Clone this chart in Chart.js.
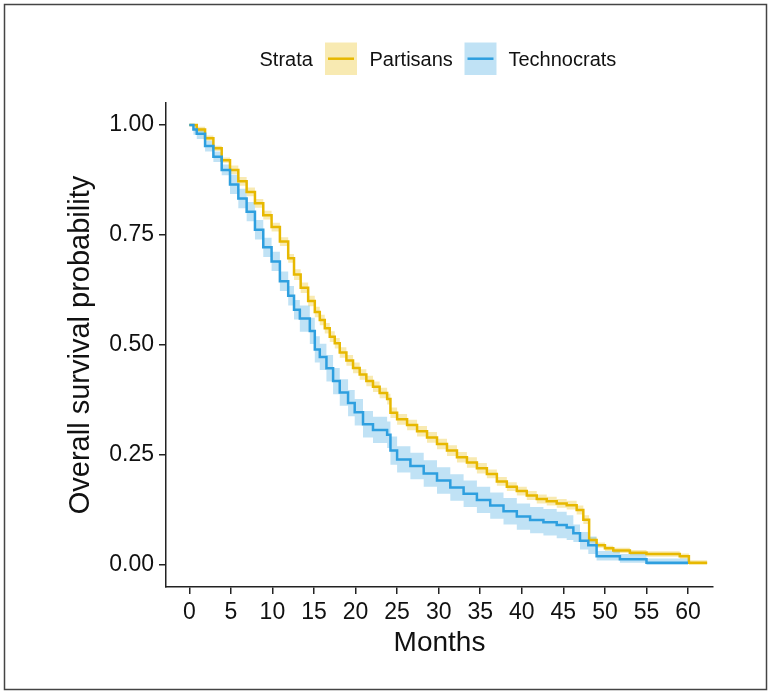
<!DOCTYPE html>
<html><head><meta charset="utf-8">
<script src="https://cdn.jsdelivr.net/npm/chart.js@4"></script>
<style>html,body{margin:0;padding:0;background:#fff}canvas{display:block}</style>
</head><body>
<canvas id="c" width="773" height="691"></canvas>
<script>
// ---- data ----
const strataTitle = 'Strata';
const strataLabels = ['Partisans', 'Technocrats'];
const xTitle = 'Months';
const yTitle = 'Overall survival probability';

const partisanTimes = [0,0.9,1.9,2.9,3.9,4.9,5.9,6.9,7.9,8.9,9.9,10.9,11.9,12.6,13.4,14.3,15.1,15.7,16.3,16.9,17.5,18.1,18.9,19.7,20.5,21.3,22.1,22.9,23.8,24.2,25.0,26.2,27.4,28.6,29.8,31.0,32.2,33.4,34.6,35.8,37.0,38.2,39.4,40.6,41.8,43.0,44.2,45.4,46.6,47.4,48.1,49.0,50.0,51.0,53.0,55.0,59.0,60.1,62.3];
const partisanSurv = [1.000,0.990,0.970,0.947,0.920,0.898,0.872,0.848,0.822,0.795,0.768,0.735,0.697,0.660,0.630,0.600,0.575,0.557,0.538,0.519,0.504,0.483,0.465,0.448,0.433,0.418,0.405,0.391,0.377,0.346,0.331,0.318,0.304,0.290,0.275,0.260,0.245,0.233,0.220,0.207,0.190,0.178,0.168,0.158,0.150,0.145,0.140,0.136,0.125,0.103,0.057,0.045,0.038,0.033,0.028,0.025,0.020,0.005,0.005];
const partisanUpper = [1.000,0.996,0.976,0.953,0.926,0.908,0.882,0.858,0.832,0.805,0.778,0.745,0.707,0.672,0.642,0.612,0.587,0.569,0.550,0.531,0.516,0.495,0.477,0.460,0.445,0.430,0.417,0.403,0.389,0.358,0.343,0.330,0.316,0.302,0.287,0.272,0.257,0.245,0.232,0.217,0.200,0.188,0.178,0.168,0.160,0.155,0.150,0.146,0.135,0.113,0.063,0.051,0.044,0.039,0.034,0.031,0.026,0.011,0.011];
const partisanLower = [1.000,0.984,0.964,0.941,0.914,0.888,0.862,0.838,0.812,0.785,0.758,0.725,0.687,0.648,0.618,0.588,0.563,0.545,0.526,0.507,0.492,0.471,0.453,0.436,0.421,0.406,0.393,0.379,0.365,0.334,0.319,0.306,0.292,0.278,0.263,0.248,0.233,0.221,0.208,0.197,0.180,0.168,0.158,0.148,0.140,0.135,0.130,0.126,0.115,0.093,0.051,0.039,0.032,0.027,0.022,0.019,0.014,0.000,0.000];

const technoTimes = [0,0.5,0.9,1.9,2.9,3.9,4.9,5.9,6.9,7.9,8.9,9.9,10.9,11.9,12.6,13.3,14.5,15.1,15.7,16.5,17.3,18.1,19.1,19.9,20.9,22.1,23.8,24.2,25.0,26.6,28.2,29.8,31.4,33.0,34.6,36.2,37.8,39.4,41.0,42.6,44.2,45.4,46.2,47.0,48.0,49.0,51.8,55.0,60.0];
const technoSurv = [1.000,0.990,0.980,0.952,0.928,0.898,0.865,0.833,0.803,0.762,0.722,0.690,0.645,0.612,0.580,0.560,0.532,0.490,0.473,0.447,0.418,0.392,0.368,0.347,0.320,0.307,0.296,0.260,0.240,0.225,0.208,0.192,0.176,0.162,0.148,0.135,0.122,0.110,0.102,0.097,0.091,0.085,0.072,0.055,0.045,0.020,0.013,0.005,0.005];
const technoUpper = [1.000,1.000,0.992,0.964,0.940,0.910,0.887,0.855,0.825,0.784,0.744,0.712,0.667,0.634,0.602,0.590,0.562,0.520,0.503,0.477,0.448,0.422,0.398,0.377,0.350,0.337,0.326,0.292,0.270,0.255,0.238,0.222,0.206,0.192,0.178,0.165,0.152,0.140,0.132,0.127,0.121,0.113,0.092,0.075,0.065,0.032,0.025,0.015,0.015];
const technoLower = [1.000,0.978,0.968,0.940,0.916,0.886,0.843,0.811,0.781,0.740,0.700,0.668,0.623,0.590,0.558,0.530,0.502,0.460,0.443,0.417,0.388,0.362,0.338,0.317,0.290,0.277,0.266,0.228,0.210,0.195,0.178,0.162,0.146,0.132,0.118,0.105,0.092,0.080,0.072,0.067,0.061,0.057,0.052,0.035,0.025,0.010,0.005,0.000,0.000];

const xTicks = [0,5,10,15,20,25,30,35,40,45,50,55,60];
const xTickLabels = ['0','5','10','15','20','25','30','35','40','45','50','55','60'];
const yTicks = [0,0.25,0.5,0.75,1];
const yTickLabels = ['0.00','0.25','0.50','0.75','1.00'];

// ---- styles ----
const GOLD = '#E7B800', BLUE = '#2E9FDF';
const GOLD_BAND = 'rgba(231,184,0,0.3)', BLUE_BAND = 'rgba(46,159,223,0.3)';
const FONT = '"Liberation Sans", Arial, sans-serif';
const INK = '#111';

const pts = (t, v) => t.map((x, i) => ({x, y: v[i]}));

const lineDs = (label, t, v, color, order) => ({
  label, data: pts(t, v), borderColor: color, borderWidth: 2.5, stepped: true,
  pointRadius: 0, fill: false, order, borderCapStyle: 'butt', borderJoinStyle: 'miter'
});
const bandDs = (t, v, color, fill, order) => ({
  data: pts(t, v), borderColor: 'rgba(0,0,0,0)', borderWidth: 0, stepped: true,
  pointRadius: 0, backgroundColor: color, fill, order
});

const legendAndFrame = {
  id: 'legendAndFrame',
  afterDraw(chart) {
    const ctx = chart.ctx;
    ctx.save();
    // outer frame
    ctx.strokeStyle = '#444';
    ctx.lineWidth = 1.5;
    ctx.strokeRect(4.5, 4.5, 762, 685);
    // legend
    ctx.font = '20px ' + FONT;
    ctx.fillStyle = INK;
    ctx.textBaseline = 'middle';
    ctx.textAlign = 'left';
    ctx.fillText(strataTitle, 259.5, 60.5);
    const keys = [
      {x: 325, band: GOLD_BAND, line: GOLD, tx: 369.5, label: strataLabels[0]},
      {x: 464.5, band: BLUE_BAND, line: BLUE, tx: 508.5, label: strataLabels[1]}
    ];
    keys.forEach(k => {
      ctx.fillStyle = k.band;
      ctx.fillRect(k.x, 42.5, 32, 32.5);
      ctx.strokeStyle = k.line;
      ctx.lineWidth = 2.5;
      ctx.beginPath();
      ctx.moveTo(k.x + 3, 58.7);
      ctx.lineTo(k.x + 29, 58.7);
      ctx.stroke();
      ctx.fillStyle = INK;
      ctx.fillText(k.label, k.tx, 60.5);
    });
    ctx.restore();
  }
};

new Chart(document.getElementById('c'), {
  type: 'line',
  data: {
    datasets: [
      lineDs(strataLabels[0], partisanTimes, partisanSurv, GOLD, 2),
      lineDs(strataLabels[1], technoTimes, technoSurv, BLUE, 1),
      bandDs(partisanTimes, partisanUpper, GOLD_BAND, {target: 3}, 4),
      bandDs(partisanTimes, partisanLower, 'rgba(0,0,0,0)', false, 4),
      bandDs(technoTimes, technoUpper, BLUE_BAND, {target: 5}, 3),
      bandDs(technoTimes, technoLower, 'rgba(0,0,0,0)', false, 3)
    ]
  },
  options: {
    responsive: false,
    animation: false,
    events: [],
    layout: {padding: {top: 103, left: 0, right: 60, bottom: 0}},
    plugins: {legend: {display: false}, tooltip: {enabled: false}},
    scales: {
      x: {
        type: 'linear', min: -2.8, max: 63,
        afterBuildTicks: s => { s.ticks = xTicks.map(v => ({value: v})); },
        afterFit: s => { s.height = 104; },
        ticks: {
          callback: (v, i) => xTickLabels[i],
          font: {family: FONT, size: 23}, color: INK, padding: 5, maxRotation: 0, autoSkip: false
        },
        grid: {drawOnChartArea: false, drawTicks: true, tickLength: 7, color: '#222', lineWidth: 1.5},
        border: {display: true, color: '#222', width: 1.5},
        title: {display: true, text: xTitle, color: INK,
          font: {family: FONT, size: 28, lineHeight: 1.2}, padding: {top: 0, bottom: 31}}
      },
      y: {
        type: 'linear', min: -0.05, max: 1.05,
        afterBuildTicks: s => { s.ticks = yTicks.map(v => ({value: v})); },
        afterFit: s => { s.width = 166; },
        ticks: {
          callback: (v, i) => yTickLabels[i],
          font: {family: FONT, size: 23}, color: INK, padding: 5, autoSkip: false
        },
        grid: {drawOnChartArea: false, drawTicks: true, tickLength: 7, color: '#222', lineWidth: 1.5},
        border: {display: true, color: '#222', width: 1.5},
        title: {display: true, text: yTitle, color: INK,
          font: {family: FONT, size: 29, lineHeight: 1.2}, padding: {top: 64, bottom: 0}}
      }
    }
  },
  plugins: [legendAndFrame]
});
</script>
</body></html>
